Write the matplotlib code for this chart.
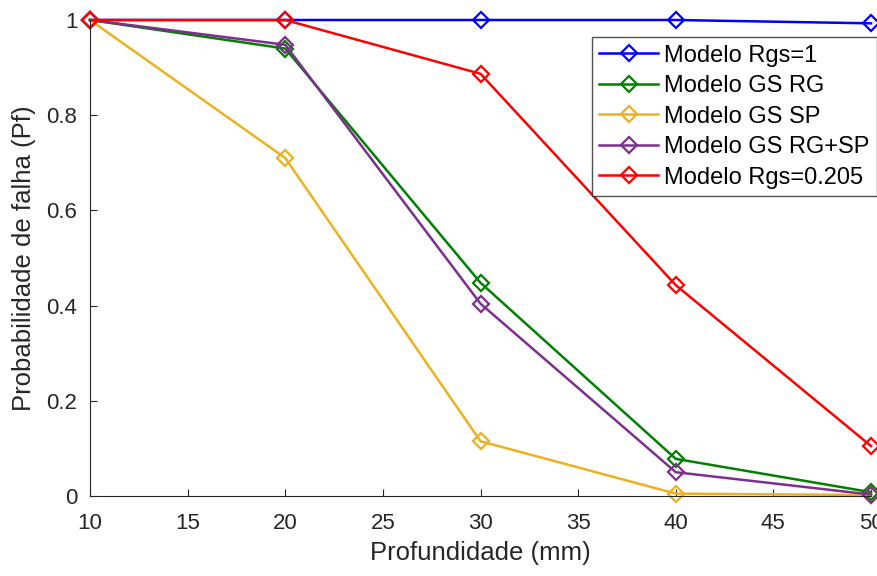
import matplotlib.pyplot as plt

plt.rcParams['font.family'] = ['Liberation Sans', 'DejaVu Sans']

profundidade = [10, 20, 30, 40, 50]
rgs_1 = [1.0, 1.0, 1.0, 1.0, 0.993]
gs_rg = [1.0, 0.94, 0.448, 0.078, 0.008]
gs_sp = [1.0, 0.71, 0.115, 0.005, 0.002]
gs_rg_sp = [1.0, 0.948, 0.404, 0.05, 0.003]
rgs_0205 = [1.0, 1.0, 0.887, 0.443, 0.105]

series = [
    ('Modelo Rgs=1', rgs_1, '#0000ff'),
    ('Modelo GS RG', gs_rg, '#008000'),
    ('Modelo GS SP', gs_sp, '#edb120'),
    ('Modelo GS RG+SP', gs_rg_sp, '#7e2f8e'),
    ('Modelo Rgs=0.205', rgs_0205, '#ff0000'),
]

fig = plt.figure(figsize=(8.78, 5.76), dpi=100)
ax = fig.add_axes([90 / 878, 80 / 576, 781 / 878, 476 / 576])

for label, vals, color in series:
    ax.plot(profundidade, vals, color=color, lw=1.8, marker='D', markersize=8,
            markerfacecolor='none', markeredgewidth=1.6, label=label,
            clip_on=False)

ax.set_xlim(10, 50)
ax.set_ylim(0, 1)
ax.set_xticks([10, 15, 20, 25, 30, 35, 40, 45, 50])
ax.set_yticks([0, 0.2, 0.4, 0.6, 0.8, 1])
ax.set_yticklabels(['0', '0.2', '0.4', '0.6', '0.8', '1'])
ax.tick_params(direction='in', labelsize=16, colors='#262626', length=5)
ax.tick_params(axis='x', pad=12)
ax.tick_params(axis='y', pad=9)
ax.spines['top'].set_visible(False)
ax.spines['right'].set_visible(False)
ax.spines['left'].set_color('#262626')
ax.spines['bottom'].set_color('#262626')
ax.set_xlabel('Profundidade (mm)', fontsize=18.5, color='#262626', labelpad=5)
ax.set_ylabel('Probabilidade de falha (Pf)', fontsize=18.5, color='#262626', labelpad=8)

leg = ax.legend(loc='upper right', bbox_to_anchor=(877 / 878, 539 / 576),
                bbox_transform=fig.transFigure, fontsize=17,
                frameon=True, fancybox=False, edgecolor='#262626',
                handlelength=2.5, handletextpad=0.25, borderpad=0.32,
                labelspacing=0.36, borderaxespad=0)
leg.get_frame().set_linewidth(1)

fig.savefig('out.png', dpi=100)
